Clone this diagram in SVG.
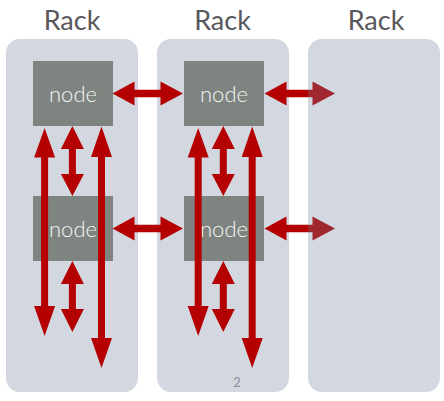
<svg xmlns="http://www.w3.org/2000/svg" width="444" height="401" viewBox="0 0 444 401">
  <style>
    .rack { fill: #717E9B; fill-opacity: 0.31; }
    .title { font-family: Lato, "Open Sans", "Liberation Sans", sans-serif; font-size: 27px; fill: #58585A; text-anchor: middle; }
    .box { fill: #7E8581; }
    .label { font-family: Lato, "Open Sans", "Liberation Sans", sans-serif; font-weight: 300; font-size: 22px; fill: #F4F4F4; text-anchor: middle; }
    .arrow { fill: #B40000; }
    .page { font-family: Lato, "Liberation Sans", sans-serif; font-size: 13px; fill: #8A8F99; text-anchor: middle; }
  </style>
  <rect width="444" height="401" fill="#FFFFFF"/>
  <g id="rack1">
    <rect class="rack" x="6" y="39" width="132" height="353" rx="14"/>
    <text class="title" x="72" y="30">Rack</text>
  </g>
  <g id="rack2">
    <rect class="rack" x="157" y="39" width="132" height="353" rx="14"/>
    <text class="title" x="222.5" y="30">Rack</text>
    <text class="page" x="237" y="387">2</text>
  </g>
  <g id="node1">
    <rect class="box" x="33" y="61" width="80" height="65"/>
    <text class="label" x="73" y="102">node</text>
  </g>
  <g id="node2">
    <rect class="box" x="33" y="196" width="80" height="65"/>
    <text class="label" x="73" y="237">node</text>
  </g>
  <g id="node3">
    <rect class="box" x="184" y="61" width="80" height="65"/>
    <text class="label" x="224" y="102">node</text>
  </g>
  <g id="node4">
    <rect class="box" x="184" y="196" width="80" height="65"/>
    <text class="label" x="224" y="237">node</text>
  </g>
  <g id="connectors" class="arrow">
    <path d="M112.5,93.5 L134.5,81.5 L134.5,89.75 L160.5,89.75 L160.5,81.5 L183,93.5 L160.5,105.5 L160.5,97.25 L134.5,97.25 L134.5,105.5 Z"/>
    <path d="M264.5,93.5 L286.5,81.5 L286.5,89.75 L312.5,89.75 L312.5,81.5 L335,93.5 L312.5,105.5 L312.5,97.25 L286.5,97.25 L286.5,105.5 Z"/>
    <path d="M112.5,228.5 L134.5,216.5 L134.5,224.75 L160.5,224.75 L160.5,216.5 L183,228.5 L160.5,240.5 L160.5,232.25 L134.5,232.25 L134.5,240.5 Z"/>
    <path d="M264.5,228.5 L286.5,216.5 L286.5,224.75 L312.5,224.75 L312.5,216.5 L335,228.5 L312.5,240.5 L312.5,232.25 L286.5,232.25 L286.5,240.5 Z"/>
    <path d="M44.6,128 L55.1,157.5 L48.1,157.5 L48.1,306 L55.1,306 L44.6,336 L34.1,306 L41.1,306 L41.1,157.5 L34.1,157.5 Z"/>
    <path d="M72.4,126 L83.9,149 L75.9,149 L75.9,174 L83.9,174 L72.4,196 L60.9,174 L68.9,174 L68.9,149 L60.9,149 Z"/>
    <path d="M101.5,126.5 L112,157 L105,157 L105,338 L112,338 L101.5,368 L91,338 L98,338 L98,157 L91,157 Z"/>
    <path d="M72.4,261 L83.9,284 L75.9,284 L75.9,309 L83.9,309 L72.4,332 L60.9,309 L68.9,309 L68.9,284 L60.9,284 Z"/>
    <path d="M198.2,128 L208.7,157.5 L201.7,157.5 L201.7,306 L208.7,306 L198.2,336 L187.7,306 L194.7,306 L194.7,157.5 L187.7,157.5 Z"/>
    <path d="M223.3,126 L234.8,149 L226.8,149 L226.8,174 L234.8,174 L223.3,196 L211.8,174 L219.8,174 L219.8,149 L211.8,149 Z"/>
    <path d="M223.3,261 L234.8,284 L226.8,284 L226.8,309 L234.8,309 L223.3,332 L211.8,309 L219.8,309 L219.8,284 L211.8,284 Z"/>
    <path d="M252.2,126.5 L262.7,157 L255.7,157 L255.7,338 L262.7,338 L252.2,368 L241.7,338 L248.7,338 L248.7,157 L241.7,157 Z"/>
  </g>
  <g id="rack3">
    <rect class="rack" x="308" y="39" width="132" height="353" rx="14"/>
    <text class="title" x="376" y="30">Rack</text>
  </g>
</svg>
